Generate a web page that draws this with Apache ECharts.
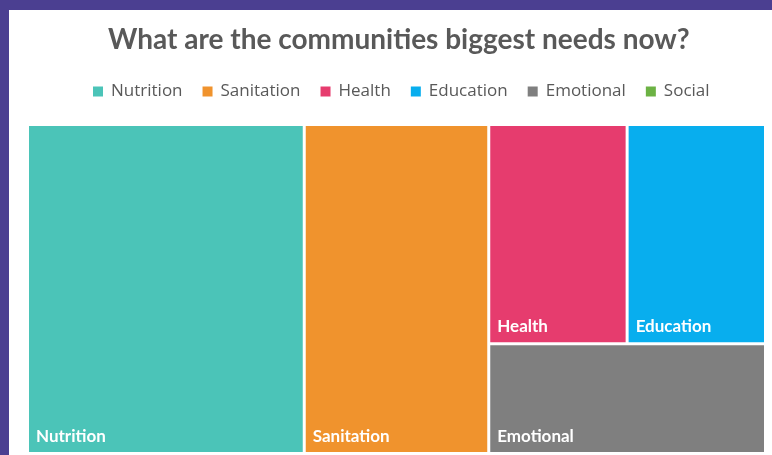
<!DOCTYPE html>
<html>
<head>
<meta charset="utf-8">
<script src="https://cdn.jsdelivr.net/npm/echarts@6/dist/echarts.min.js"></script>
<style>
  html, body { margin: 0; padding: 0; background: #4B3F91; width: 772px; height: 455px; overflow: hidden; }
  #chart { position: absolute; left: 9px; top: 10px; width: 763px; height: 445px; background: #ffffff; }
</style>
</head>
<body>
<div id="chart"></div>
<script>
const titleText = 'What are the communities biggest needs now?';
const categories = ['Nutrition', 'Sanitation', 'Health', 'Education', 'Emotional', 'Social'];
const values = [9, 6, 3, 3, 3, 0];
const colors = ['#4BC4B8', '#F0932D', '#E63C6E', '#08AEEE', '#7F7F7F', '#6CB244'];

const chart = echarts.init(document.getElementById('chart'), null, { renderer: 'canvas' });

const treeData = categories
  .map((name, i) => ({ name: name, value: values[i], itemStyle: { color: colors[i] } }))
  .filter(d => d.value > 0);

const legendProxyData = categories.map((name, i) => ({ name: name, value: values[i], itemStyle: { color: colors[i] } }));

chart.setOption({
  backgroundColor: '#ffffff',
  animation: false,
  title: {
    text: titleText,
    left: 99,
    top: 16,
    padding: 0,
    textStyle: { fontFamily: 'Lato', fontWeight: 'bold', fontSize: 28, color: '#595959' }
  },
  legend: {
    data: categories,
    left: 84,
    top: 73,
    padding: 0,
    itemWidth: 10,
    itemHeight: 10,
    itemGap: 20,
    icon: 'rect',
    textStyle: { fontFamily: 'Open Sans', fontSize: 17, color: '#595959', padding: [0, 0, 0, 3] }
  },
  series: [
    {
      type: 'pie',
      name: 'legendProxy',
      radius: [0, 0],
      center: [-50, -50],
      silent: true,
      label: { show: false },
      labelLine: { show: false },
      data: legendProxyData
    },
    {
      type: 'treemap',
      name: 'Needs',
      left: 20,
      top: 116,
      width: 735,
      height: 326,
      roam: false,
      nodeClick: false,
      squareRatio: 1,
      sort: false,
      breadcrumb: { show: false },
      itemStyle: { borderWidth: 0, gapWidth: 3, borderColor: '#ffffff' },
      label: {
        show: true,
        position: 'insideBottomLeft',
        distance: 4,
        padding: [0, 0, 3, 3],
        fontFamily: 'Lato',
        fontWeight: 'bold',
        fontSize: 17,
        color: '#ffffff'
      },
      upperLabel: { show: false },
      data: treeData
    }
  ]
});
</script>
</body>
</html>
